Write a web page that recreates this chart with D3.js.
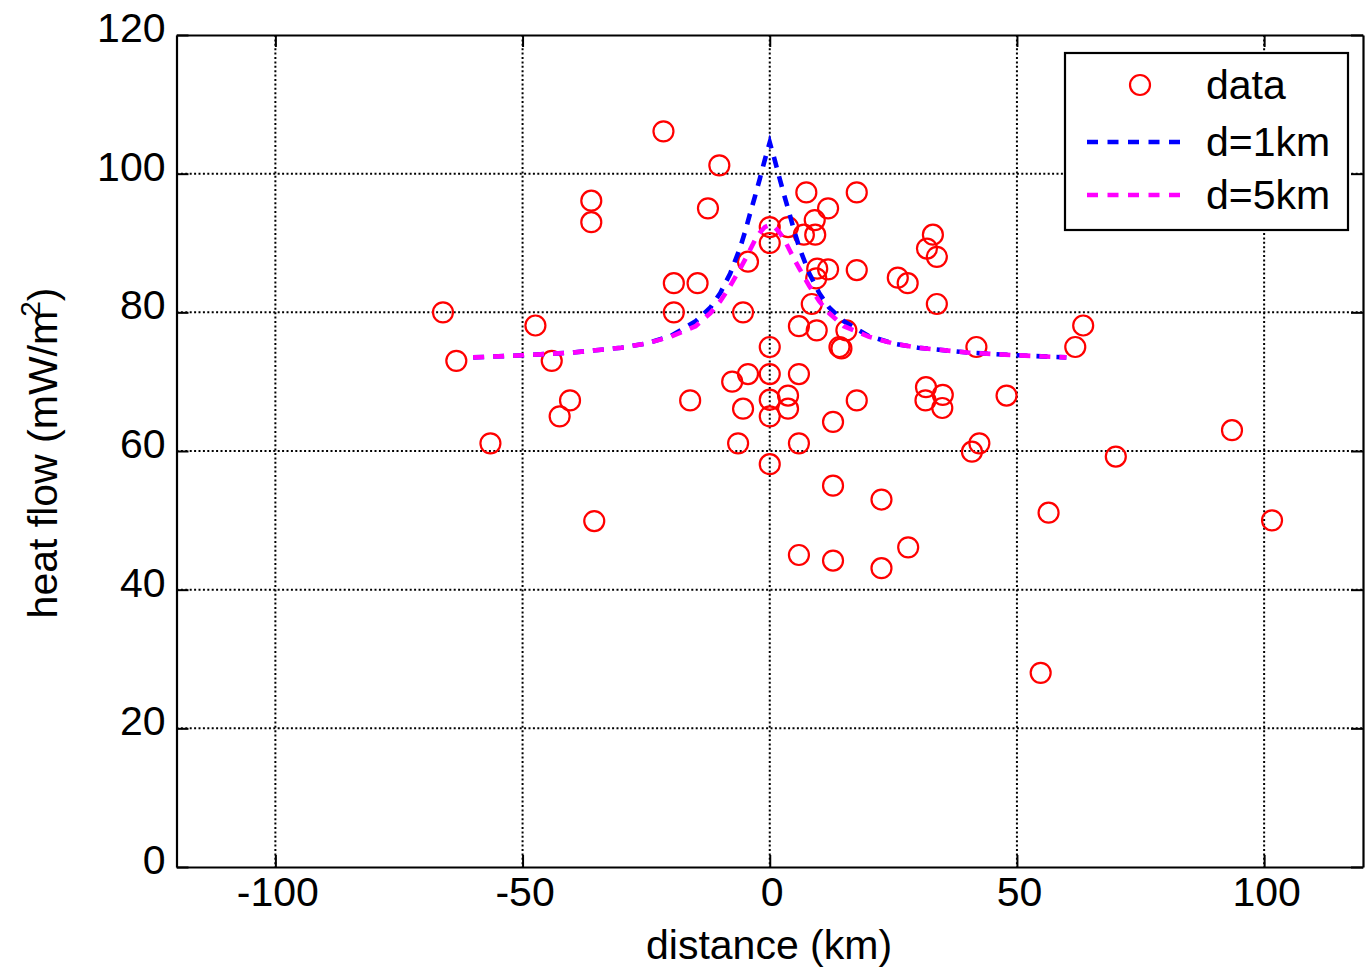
<!DOCTYPE html>
<html>
<head>
<meta charset="utf-8">
<script src="https://cdn.jsdelivr.net/npm/d3@7"></script>
<style>
  body { margin: 0; background: #fff; }
  svg { display: block; font-family: "Liberation Sans", Arial, Helvetica, sans-serif; }
</style>
</head>
<body>
<div id="chart"></div>
<script>
// measured heat flow points (distance km, heat flow mW/m2)
const dataX = [-66.1, -63.4, -56.5, -47.4, -44.1, -42.5, -40.4, -36.1, -36.1, -35.5,
  -21.5, -19.4, -19.4, -16.1, -14.6, -12.5, -10.2, -7.6, -6.4, -5.4,
  -5.4, -4.4, -4.4, 0, 0, 0, 0, 0, 0, 0,
  3.7, 3.7, 3.7, 5.9, 5.9, 5.9, 5.9, 6.9, 7.4, 8.5,
  9.1, 9.2, 9.4, 9.6, 9.5, 11.8, 11.8, 12.8, 12.8, 12.8,
  14.1, 14.5, 15.5, 17.6, 17.6, 17.6, 22.6, 22.6, 25.9, 27.9,
  28.0, 31.5, 31.6, 31.8, 33.0, 33.8, 33.8, 34.9, 35.0, 40.9,
  41.8, 42.4, 47.9, 54.8, 56.4, 61.8, 63.4, 70.0, 93.5, 101.6];
const dataY = [80.0, 73.0, 61.1, 78.1, 73.0, 65.0, 67.3, 96.1, 93.0, 49.9,
  106.1, 84.2, 80.0, 67.3, 84.2, 95.0, 101.2, 70.0, 61.1, 80.0,
  66.1, 87.3, 71.1, 92.3, 90.0, 75.0, 71.1, 67.4, 65.0, 58.1,
  92.3, 68.0, 66.1, 78.0, 71.1, 61.1, 45.0, 91.2, 97.3, 81.2,
  93.3, 91.2, 84.9, 86.3, 77.4, 95.0, 86.2, 64.2, 55.0, 44.2,
  75.0, 74.8, 77.4, 97.3, 86.1, 67.3, 53.0, 43.1, 85.0, 84.2,
  46.1, 67.3, 69.2, 89.2, 91.2, 88.0, 81.2, 66.2, 68.1, 59.9,
  75.0, 61.1, 68.0, 28.0, 51.1, 75.0, 78.1, 59.2, 63.0, 50.0];

// model curves
const curveX = [-60, -50, -40, -30, -25, -20, -15, -12, -10, -8, -6, -5, -4, -3, -2, -1, 0,
  1, 2, 3, 4, 5, 6, 8, 10, 12, 15, 20, 25, 30, 40, 50, 60];
const d1Y = [73.5, 73.8, 74.2, 74.9, 75.5, 76.6, 78.7, 80.7, 82.8, 85.6, 89.3, 91.6, 94.2, 96.7, 99.3, 102.0, 104.5,
  102.0, 99.3, 96.7, 94.2, 91.6, 89.3, 85.6, 82.8, 80.7, 78.7, 76.6, 75.5, 74.9, 74.2, 73.8, 73.5];
const d5Y = [73.5, 73.8, 74.2, 74.9, 75.5, 76.5, 78.0, 79.9, 81.6, 83.8, 86.3, 87.6, 89.0, 90.4, 91.5, 92.3, 92.6,
  92.3, 91.5, 90.4, 89.0, 87.6, 86.3, 83.8, 81.6, 79.9, 78.0, 76.5, 75.5, 74.9, 74.2, 73.8, 73.5];

const xTicks = [-100, -50, 0, 50, 100];
const yTicks = [0, 20, 40, 60, 80, 100, 120];

const legendItems = [
  {label: "data", type: "marker", color: "#ff0000"},
  {label: "d=1km", type: "line", color: "#0000ff"},
  {label: "d=5km", type: "line", color: "#ff00ff"}
];

const width = 1368, height = 972;
const margin = {top: 35, right: 5, bottom: 105, left: 176.5};
const plotW = width - margin.left - margin.right;
const plotH = height - margin.top - margin.bottom;

const svg = d3.select("#chart").append("svg")
  .attr("width", width)
  .attr("height", height);

const g = svg.append("g")
  .attr("transform", `translate(${margin.left},${margin.top})`);

const x = d3.scaleLinear().domain([-120, 120]).range([0, plotW]);
const y = d3.scaleLinear().domain([0, 120]).range([plotH, 0]);

// dotted grid
g.append("g").selectAll("line")
  .data(xTicks)
  .enter().append("line")
  .attr("x1", d => x(d)).attr("x2", d => x(d))
  .attr("y1", 0).attr("y2", plotH)
  .attr("stroke", "#000").attr("stroke-width", 2)
  .attr("stroke-dasharray", "2,2.4");

g.append("g").selectAll("line")
  .data(yTicks.filter(d => d > 0 && d < 120))
  .enter().append("line")
  .attr("x1", 0).attr("x2", plotW)
  .attr("y1", d => y(d)).attr("y2", d => y(d))
  .attr("stroke", "#000").attr("stroke-width", 2)
  .attr("stroke-dasharray", "2,2.4");

// data circles
const points = dataX.map((v, i) => ({x: v, y: dataY[i]}));
g.append("g").selectAll("circle")
  .data(points)
  .enter().append("circle")
  .attr("cx", d => x(d.x))
  .attr("cy", d => y(d.y))
  .attr("r", 10)
  .attr("fill", "none")
  .attr("stroke", "#ff0000")
  .attr("stroke-width", 2.2);

// model lines
const line = d3.line()
  .x(d => x(d[0]))
  .y(d => y(d[1]));

g.append("path")
  .datum(curveX.map((v, i) => [v, d1Y[i]]))
  .attr("d", line)
  .attr("fill", "none")
  .attr("stroke", "#0000ff")
  .attr("stroke-width", 4.6)
  .attr("stroke-dasharray", "11,9");

g.append("path")
  .datum(curveX.map((v, i) => [v, d5Y[i]]))
  .attr("d", line)
  .attr("fill", "none")
  .attr("stroke", "#ff00ff")
  .attr("stroke-width", 4.6)
  .attr("stroke-dasharray", "11,9");

// axes, ticks inside like matlab
const fontSize = 41;
const fmt = d => String(d);   // plain hyphen minus

const xAxis = g.append("g")
  .attr("transform", `translate(0,${plotH})`)
  .call(d3.axisBottom(x).tickValues(xTicks).tickFormat(fmt).tickSize(-12).tickSizeOuter(0).tickPadding(10));
xAxis.selectAll("text").attr("dx", "2");

const yAxis = g.append("g")
  .call(d3.axisLeft(y).tickValues(yTicks).tickFormat(fmt).tickSize(-12).tickSizeOuter(0).tickPadding(11));
yAxis.selectAll("text").attr("dy", "0.16em");

g.append("g")
  .call(d3.axisTop(x).tickValues(xTicks).tickSize(-12).tickSizeOuter(0).tickFormat(""));
g.append("g")
  .attr("transform", `translate(${plotW},0)`)
  .call(d3.axisRight(y).tickValues(yTicks).tickSize(-12).tickSizeOuter(0).tickFormat(""));

g.selectAll(".domain").attr("stroke", "#000").attr("stroke-width", 2.2);
g.selectAll(".tick line").attr("stroke", "#000").attr("stroke-width", 2);
g.selectAll(".tick text")
  .attr("fill", "#000")
  .style("font-size", fontSize + "px")
  .style("font-family", "'Liberation Sans', Arial, sans-serif");

// legend
const legend = svg.append("g").attr("transform", "translate(1065,53)");
legend.append("rect")
  .attr("width", 283).attr("height", 177)
  .attr("fill", "#fff")
  .attr("stroke", "#000").attr("stroke-width", 2.2);

const rowY = [32, 89, 142];
legendItems.forEach((item, i) => {
  const row = legend.append("g").attr("transform", `translate(0,${rowY[i]})`);
  if (item.type === "marker") {
    row.append("circle")
      .attr("cx", 75).attr("cy", 0).attr("r", 10)
      .attr("fill", "none").attr("stroke", item.color).attr("stroke-width", 2.2);
  } else {
    row.append("line")
      .attr("x1", 22).attr("x2", 118).attr("y1", 0).attr("y2", 0)
      .attr("stroke", item.color).attr("stroke-width", 4.6)
      .attr("stroke-dasharray", "11,9.5");
  }
  row.append("text")
    .attr("x", 141).attr("y", 0).attr("dy", "0.34em")
    .style("font-size", fontSize + "px")
    .text(item.label);
});

// axis labels
svg.append("text")
  .attr("x", 769).attr("y", 959)
  .attr("text-anchor", "middle")
  .style("font-size", fontSize + "px")
  .text("distance (km)");

const yl = svg.append("text")
  .attr("transform", "translate(57,453) rotate(-90)")
  .attr("text-anchor", "middle")
  .style("font-size", fontSize + "px");
yl.append("tspan").text("heat flow (mW/m");
yl.append("tspan").attr("dy", -17).attr("dx", -6).style("font-size", "28px").text("2");
yl.append("tspan").attr("dy", 17).text(")");
</script>
</body>
</html>
